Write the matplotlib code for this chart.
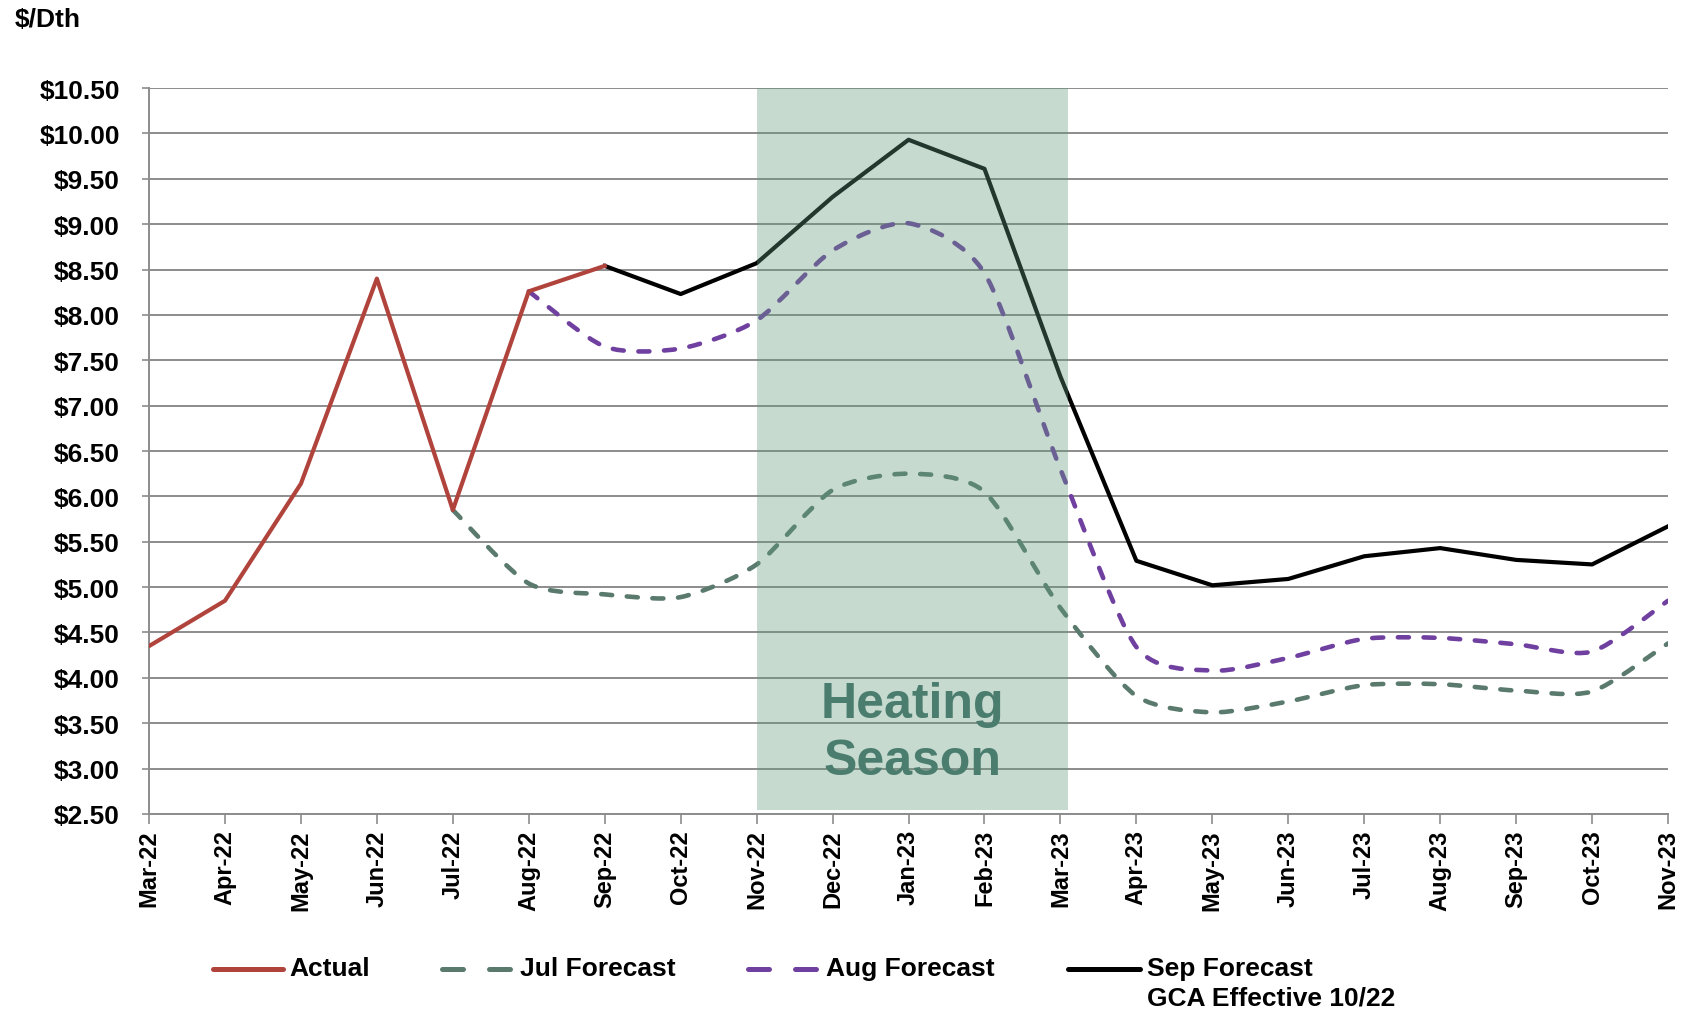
import matplotlib
matplotlib.use('Agg')
import matplotlib.pyplot as plt
import numpy as np
from matplotlib.path import Path
from matplotlib.patches import PathPatch
from matplotlib.lines import Line2D

plt.rcParams['font.family'] = ['Liberation Sans', 'DejaVu Sans']
plt.rcParams['font.weight'] = 'bold'

months = ['Mar-22', 'Apr-22', 'May-22', 'Jun-22', 'Jul-22', 'Aug-22', 'Sep-22',
          'Oct-22', 'Nov-22', 'Dec-22', 'Jan-23', 'Feb-23', 'Mar-23', 'Apr-23',
          'May-23', 'Jun-23', 'Jul-23', 'Aug-23', 'Sep-23', 'Oct-23', 'Nov-23']

# actual prices Mar-22 .. Sep-22
actual = [4.35, 4.85, 6.14, 8.40, 5.85, 8.26, 8.54]
# forecasts, each starting at the month given by *_start (index into months)
jul_start = 4
jul_fcst = [5.85, 5.04, 4.92, 4.89, 5.25, 6.07, 6.25, 6.05, 4.77, 3.80, 3.62,
            3.74, 3.92, 3.93, 3.86, 3.85, 4.38]
aug_start = 5
aug_fcst = [8.26, 7.65, 7.63, 7.94, 8.71, 9.01, 8.46, 6.30, 4.34, 4.08, 4.22,
            4.43, 4.44, 4.37, 4.29, 4.85]
sep_start = 6
sep_fcst = [8.54, 8.23, 8.57, 9.30, 9.93, 9.61, 7.32, 5.29, 5.02, 5.09, 5.34,
            5.43, 5.30, 5.25, 5.67]

heat_start, heat_end = 8, 12.1

c_actual = '#B0443C'
c_jul = '#5A7A6E'
c_aug = '#7040A0'
c_sep = '#000000'


def smooth_path(x, y):
    # excel-style smoothed line: cubic bezier through every point
    pts = np.column_stack([x, y]).astype(float)
    n = len(pts)
    verts = [pts[0]]
    codes = [Path.MOVETO]
    for i in range(n - 1):
        p0 = pts[i - 1] if i > 0 else pts[i]
        p1 = pts[i]
        p2 = pts[i + 1]
        p3 = pts[i + 2] if i + 2 < n else pts[i + 1]
        c1 = p1 + (p2 - p0) / 8
        c2 = p2 - (p3 - p1) / 8
        verts += [c1, c2, p2]
        codes += [Path.CURVE4] * 3
    return Path(verts, codes)


fig = plt.figure(figsize=(16.82, 10.12), dpi=100)
ax = fig.add_axes([0.0886, 0.1947, 0.9031, 0.7173])

x_act = np.arange(len(actual))
x_jul = np.arange(len(jul_fcst)) + jul_start
x_aug = np.arange(len(aug_fcst)) + aug_start
x_sep = np.arange(len(sep_fcst)) + sep_start

ax.add_patch(PathPatch(smooth_path(x_jul, jul_fcst), fill=False, edgecolor=c_jul,
                       lw=3.3, linestyle=(0, (2.4, 3.2)), capstyle='round', zorder=2))
ax.add_patch(PathPatch(smooth_path(x_aug, aug_fcst), fill=False, edgecolor=c_aug,
                       lw=3.3, linestyle=(0, (2.4, 3.2)), capstyle='round', zorder=2))
ax.plot(x_sep, sep_fcst, color=c_sep, lw=3.0, solid_joinstyle='round', zorder=3)
ax.plot(x_act, actual, color=c_actual, lw=3.0, solid_joinstyle='round', zorder=4)

# heating season overlay (semi transparent, on top of the lines)
ax.axvspan(heat_start, heat_end, ymin=0.006, ymax=1, color='#61997D', alpha=0.36,
           lw=0, zorder=5)
ax.text((heat_start + heat_end) / 2, 3.4, 'Heating\nSeason', ha='center', va='center',
        fontsize=36, color='#4B7D6E', fontweight='bold', linespacing=1.3, zorder=6)

ax.set_xlim(0, len(months) - 1)
ax.set_ylim(2.5, 10.5)
ax.set_xticks(np.arange(len(months)))
ax.set_xticklabels(months, rotation=90, fontsize=17, fontweight='bold')
yt = np.arange(2.5, 10.51, 0.5)
ax.set_yticks(yt)
ax.set_yticklabels(['${:.2f}'.format(v) for v in yt], fontsize=19, fontweight='bold')

ax.grid(axis='y', color='#8C8C8C', lw=1.4, zorder=1)
ax.set_axisbelow(True)
for s in ['top', 'right']:
    ax.spines[s].set_visible(False)
for s in ['left', 'bottom']:
    ax.spines[s].set_color('#8C8C8C')
    ax.spines[s].set_linewidth(1.4)
ax.tick_params(axis='y', length=5, width=1.2, color='#8C8C8C', pad=16)
ax.tick_params(axis='x', length=7, width=1.2, color='#8C8C8C', pad=4)

fig.text(15 / 1682, 1 - 20 / 1012, '$/Dth', fontsize=19, fontweight='bold',
         ha='left', va='center')

# legend, drawn by hand to match the layout
W, H = 1682.0, 1012.0
ly = 1 - 970 / H
legend_items = [
    (213, 283, 289, c_actual, '-', 'Actual'),
    (442, 512, 520, c_jul, '--', 'Jul Forecast'),
    (748, 818, 826, c_aug, '--', 'Aug Forecast'),
    (1068, 1140, 1147, c_sep, '-', 'Sep Forecast\nGCA Effective 10/22'),
]
for x0, x1, xt, col, ls, lab in legend_items:
    line = Line2D([x0 / W, x1 / W], [ly, ly], transform=fig.transFigure, color=col,
                  lw=3.6, solid_capstyle='round', dash_capstyle='round')
    if ls == '--':
        line.set_dashes((4.2, 5.2))
    fig.add_artist(line)
    fig.text(xt / W, ly + 0.0125, lab, fontsize=19, fontweight='bold', ha='left',
             va='top', linespacing=1.25)

fig.savefig('out.png', dpi=100, facecolor='white')
